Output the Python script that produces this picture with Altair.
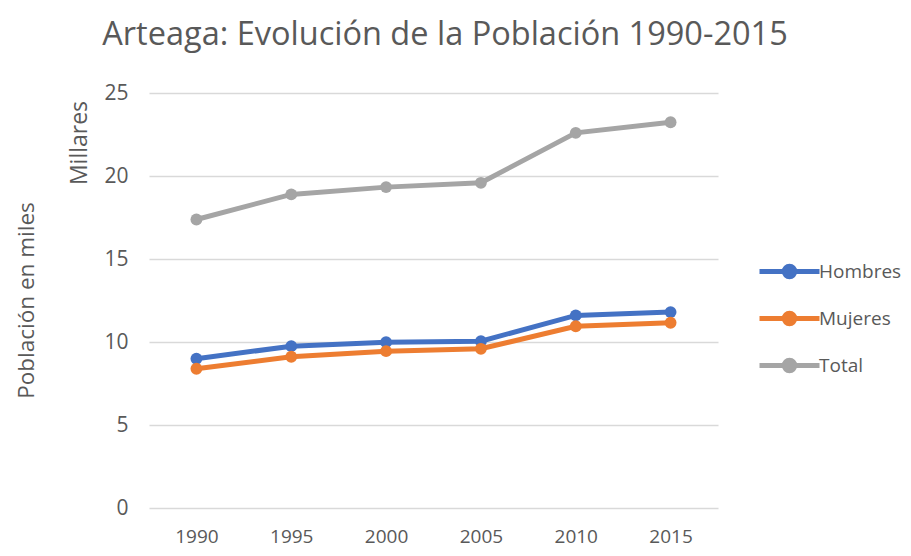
import altair as alt
import pandas as pd

years = ["1990", "1995", "2000", "2005", "2010", "2015"]
hombres = [8.99, 9.75, 9.99, 10.05, 11.6, 11.8]
mujeres = [8.39, 9.11, 9.45, 9.59, 10.95, 11.16]
total = [17.38, 18.89, 19.33, 19.59, 22.6, 23.24]
series = ["Hombres", "Mujeres", "Total"]
colors = ["#4472C4", "#ED7D31", "#A5A5A5"]

rows = []
for name, vals in zip(series, [hombres, mujeres, total]):
    for y, v in zip(years, vals):
        rows.append({"year": y, "value": v, "serie": name})
df = pd.DataFrame(rows)

FONT = "Open Sans"
TXT = "#595959"

color = alt.Color(
    "serie:N",
    scale=alt.Scale(domain=series, range=colors),
    sort=series,
    legend=alt.Legend(
        title=None,
        orient="none",
        legendX=623,
        legendY=161,
        padding=0,
        symbolType="M-2,0L2,0M-0.35,0A0.35,0.35,0,1,0,0.35,0A0.35,0.35,0,1,0,-0.35,0Z",
        symbolSize=900,
        symbolStrokeWidth=5,
        labelFontSize=19,
        labelFont=FONT,
        labelColor=TXT,
        labelOffset=12,
        rowPadding=14,
    ),
)

x = alt.X(
    "year:O",
    sort=years,
    scale=alt.Scale(paddingOuter=0.5),
    axis=alt.Axis(
        title=None,
        labelAngle=0,
        domain=False,
        ticks=False,
        grid=False,
        labelFont=FONT,
        labelFontSize=19,
        labelColor=TXT,
        labelPadding=19,
    ),
)
y = alt.Y(
    "value:Q",
    scale=alt.Scale(domain=[0, 25]),
    axis=alt.Axis(
        values=[0, 5, 10, 15, 20, 25],
        title="Población en miles",
        titleFont=FONT,
        titleFontSize=22.5,
        titleFontWeight="normal",
        titleColor=TXT,
        titleAngle=270,
        titleBaseline="middle",
        titleX=-123,
        titleY=207,
        domain=False,
        ticks=False,
        grid=True,
        gridColor="#D9D9D9",
        gridWidth=1.5,
        labelFont=FONT,
        labelFontSize=21,
        labelColor=TXT,
        labelPadding=21,
    ),
)

base = alt.Chart(df)
lines = base.mark_line(strokeWidth=5).encode(x=x, y=y, color=color)
points = base.mark_point(filled=True, size=140, opacity=1).encode(x=x, y=y, color=color)

millares = alt.Chart(pd.DataFrame({"t": ["Millares"]})).mark_text(
    angle=270, font=FONT, fontSize=23, color=TXT, baseline="middle", align="center"
).encode(text="t:N", x=alt.value(-69), y=alt.value(50))

chart = (
    alt.layer(lines, points, millares)
    .properties(
        width=569,
        height=415,
        autosize=alt.AutoSizeParams(type="none"),
        padding={"left": 141, "top": 85, "right": 185, "bottom": 40},
        title=alt.TitleParams(
            "Arteaga: Evolución de la Población 1990-2015",
            font=FONT,
            fontSize=32.5,
            fontWeight="normal",
            color=TXT,
            anchor="middle",
            frame="group",
            dx=11.5,
            offset=31,
        ),
        background="white",
    )
    .configure_view(stroke=None)
)

chart.save("out.html", embed_options={"renderer": "svg", "actions": False})
